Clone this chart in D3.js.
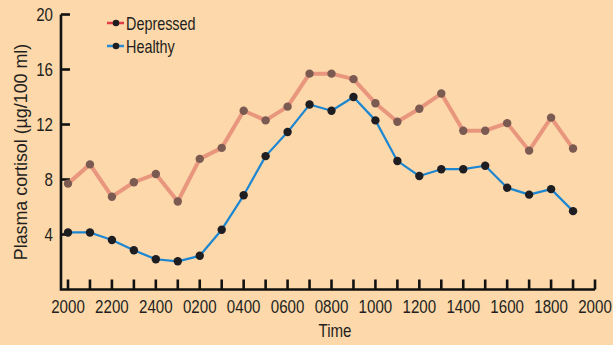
<!DOCTYPE html>
<html><head><meta charset="utf-8">
<script src="https://cdn.jsdelivr.net/npm/d3@7"></script>
<style>
html,body{margin:0;padding:0;background:#FDD8AA;}
svg{display:block;}
text{font-family:"Liberation Sans","Arial",sans-serif;fill:#231F20;}
</style></head>
<body><svg id="c" width="613" height="345"></svg>
<script>
const hours = ["2000","2100","2200","2300","2400","0100","0200","0300","0400","0500","0600","0700","0800","0900","1000","1100","1200","1300","1400","1500","1600","1700","1800","1900","2000"];
const tickLabels = ["2000","2200","2400","0200","0400","0600","0800","1000","1200","1400","1600","1800","2000"];
const depressed = [7.7,9.1,6.75,7.8,8.4,6.4,9.5,10.3,13.0,12.3,13.3,15.7,15.7,15.3,13.55,12.2,13.15,14.25,11.55,11.55,12.1,10.1,12.5,10.25];
const healthy = [4.15,4.15,3.6,2.85,2.2,2.05,2.45,4.35,6.85,9.7,11.45,13.45,13.0,14.0,12.3,9.35,8.25,8.75,8.75,9.0,7.4,6.9,7.3,5.7];
const yTicks = [4,8,12,16,20];

const svg = d3.select("#c");
const x = d3.scaleLinear().domain([0,24]).range([68,595]);
const y = d3.scaleLinear().domain([0,20]).range([289.5,14.5]);
const SX = 0.84, FS = 18;

const ax = svg.append("g").attr("stroke","#111").attr("stroke-width",2.6).attr("fill","none");
ax.append("path").attr("d",`M${x(-0.32)},${y(20)}V${y(0)}H${x(24)}`).attr("stroke-linejoin","miter");
ax.selectAll("line.xt").data(d3.range(0,25)).join("line")
  .attr("x1",d=>x(d)).attr("x2",d=>x(d)).attr("y1",y(0)).attr("y2",y(0)-10);
ax.selectAll("line.yt").data(yTicks).join("line")
  .attr("x1",x(-0.32)).attr("x2",x(-0.32)+9).attr("y1",d=>y(d)).attr("y2",d=>y(d));

svg.selectAll("text.xl").data(tickLabels).join("text")
  .attr("transform",(d,i)=>`translate(${x(i*2)},313) scale(${SX},1)`).attr("text-anchor","middle")
  .attr("font-size",FS).text(d=>d);
svg.selectAll("text.yl").data(yTicks).join("text")
  .attr("transform",d=>`translate(53,${y(d)+6.5}) scale(${SX},1)`).attr("text-anchor","end")
  .attr("font-size",FS).text(d=>d);

svg.append("text").attr("transform",`translate(335,337) scale(${SX},1)`).attr("text-anchor","middle").attr("font-size",FS).text("Time");
svg.append("text").attr("transform",`translate(27,152) rotate(-90) scale(1.02,1)`).attr("text-anchor","middle").attr("font-size",17.5).text("Plasma cortisol (µg/100 ml)");

const line = d3.line().x((d,i)=>x(i)).y(d=>y(d));
svg.append("path").datum(depressed).attr("d",line).attr("fill","none").attr("stroke","#E9967E").attr("stroke-width",4).attr("stroke-linejoin","round");
svg.selectAll("circle.dp").data(depressed).join("circle").attr("cx",(d,i)=>x(i)).attr("cy",d=>y(d)).attr("r",4.2).attr("fill","#7B5A52");
svg.append("path").datum(healthy).attr("d",line).attr("fill","none").attr("stroke","#1C86D1").attr("stroke-width",2.2).attr("stroke-linejoin","round");
svg.selectAll("circle.hp").data(healthy).join("circle").attr("cx",(d,i)=>x(i)).attr("cy",d=>y(d)).attr("r",4.2).attr("fill","#1E1E22");

const legend = [{name:"Depressed",color:"#E33B45",yy:23},{name:"Healthy",color:"#2A8BD6",yy:46}];
const lg = svg.selectAll("g.lg").data(legend).join("g");
lg.append("line").attr("x1",107).attr("x2",124).attr("y1",d=>d.yy).attr("y2",d=>d.yy).attr("stroke",d=>d.color).attr("stroke-width",2.5);
lg.append("circle").attr("cx",116).attr("cy",d=>d.yy).attr("r",3.3).attr("fill","#1E1E22");
lg.append("text").attr("transform",d=>`translate(126,${d.yy+6.5}) scale(0.8,1)`).attr("font-size",FS).text(d=>d.name);
</script></body></html>
